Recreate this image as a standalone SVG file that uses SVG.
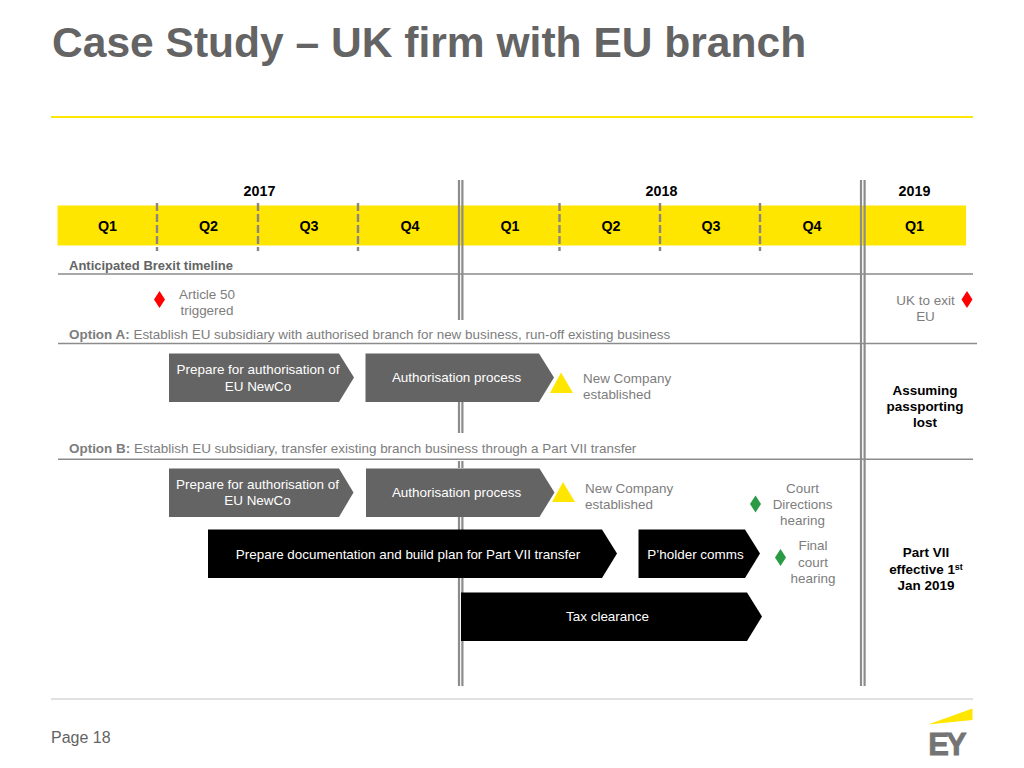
<svg xmlns="http://www.w3.org/2000/svg" width="1024" height="768" viewBox="0 0 1024 768">
<style>
text{font-family:"Liberation Sans",Arial,sans-serif;font-size:13.45px}
.m{text-anchor:middle}
.g{fill:#7d7d7d}
.d{fill:#646464}
.w{fill:#fff}
.k{fill:#000;font-weight:700}
.q{fill:#000;font-weight:700;text-anchor:middle;font-size:14.3px}
.rule{stroke:#8c8c8c;stroke-width:1.4;fill:none}
.dash{stroke:#8c8480;stroke-width:2.4;stroke-dasharray:8 3;fill:none}
.dbl{stroke:#8c8c8c;stroke-width:2.2;fill:none}
.red{fill:#f00}.grn{fill:#2a9a45}.yel{fill:#ffe600}.gr{fill:#646464}.bl{fill:#000}
</style>
<rect width="1024" height="768" fill="#fff"/>
<g id="title">
<text x="52" y="57" style="font-size:42.55px;font-weight:700" class="d">Case Study – UK firm with EU branch</text>
<rect x="51" y="116" width="922" height="2" class="yel"/>
</g>
<g id="timeline-band">
<rect x="57.5" y="205.5" width="908.5" height="40" class="yel"/>
<text x="259.500" y="196" class="q">2017</text>
<text x="661.500" y="196" class="q">2018</text>
<text x="914.500" y="196" class="q">2019</text>
<text x="107.500" y="230.500" class="q">Q1</text>
<text x="208.500" y="230.500" class="q">Q2</text>
<text x="309" y="230.500" class="q">Q3</text>
<text x="410" y="230.500" class="q">Q4</text>
<text x="510" y="230.500" class="q">Q1</text>
<text x="611" y="230.500" class="q">Q2</text>
<text x="711" y="230.500" class="q">Q3</text>
<text x="812" y="230.500" class="q">Q4</text>
<text x="914.500" y="230.500" class="q">Q1</text>
</g>
<g id="connectors">
<path class="dash" d="M157 203V251M258 203V251M358 203V251M559.500 203V251M660 203V251M760 203V251"/>
<path class="rule" d="M58 274H973M58 343.500H977M58 459.200H973"/>
<path class="dbl" d="M459 180V320M462.400 180V320M459 402V433M462.400 402V433M459 461V468M462.400 461V468M459 517V686M462.400 517V686"/>
<path class="dbl" d="M861 180V686M864.600 180V686"/>
<path d="M51 699H973" stroke="#e0e0e0" stroke-width="2" fill="none"/>
</g>
<g id="section-labels">
<text x="69" y="269.500" class="d" style="font-weight:700;font-size:13px">Anticipated Brexit timeline</text>
<text x="69" y="339" class="g"><tspan font-weight="700">Option A:</tspan> Establish EU subsidiary with authorised branch for new business, run-off existing business</text>
<text x="69" y="453" class="g"><tspan font-weight="700">Option B:</tspan> Establish EU subsidiary, transfer existing branch business through a Part VII transfer</text>
</g>
<g id="article-50">
<path class="red" d="M159.500 291L165 299.500 159.500 308 154 299.500Z"/>
<text class="g m"><tspan x="207" y="298.500">Article 50</tspan><tspan x="207" y="314.500">triggered</tspan></text>
</g>
<g id="uk-exit">
<path class="red" d="M967 291L972.500 299.500 967 308 961.500 299.500Z"/>
<text class="g m"><tspan x="925.500" y="304.500">UK to exit</tspan><tspan x="925.500" y="320.500">EU</tspan></text>
</g>
<g id="a-prepare">
<path class="gr" d="M169 353.500H339L354 377.500 339 402H169Z"/>
<text class="w m"><tspan x="258" y="374">Prepare for authorisation of</tspan><tspan x="258" y="390.500">EU NewCo</tspan></text>
</g>
<g id="a-authorisation">
<path class="gr" d="M365.500 353.500H539L554 377.500 539 402H365.500Z"/>
<text x="456.500" y="382" class="w m">Authorisation process</text>
</g>
<g id="a-newco">
<path class="yel" d="M561 372.500L573 393H550Z"/>
<text class="g"><tspan x="583" y="382.500">New Company</tspan><tspan x="583" y="398.500">established</tspan></text>
</g>
<g id="assuming">
<text class="k m"><tspan x="925" y="394.500">Assuming</tspan><tspan x="925" y="410.500">passporting</tspan><tspan x="925" y="426.500">lost</tspan></text>
</g>
<g id="b-prepare">
<path class="gr" d="M169 468.500H339L353.500 492.500 339 517H169Z"/>
<text class="w m"><tspan x="257.500" y="488.500">Prepare for authorisation of</tspan><tspan x="257.500" y="504.500">EU NewCo</tspan></text>
</g>
<g id="b-authorisation">
<path class="gr" d="M366 468.500H539.500L554.500 492.500 539.500 517H366Z"/>
<text x="456.500" y="497" class="w m">Authorisation process</text>
</g>
<g id="b-newco">
<path class="yel" d="M563 482L575 502H552Z"/>
<text class="g"><tspan x="585" y="493">New Company</tspan><tspan x="585" y="509">established</tspan></text>
</g>
<g id="directions-hearing">
<path class="grn" d="M755.500 495.500L761 504 755.500 512.500 750 504Z"/>
<text class="g m"><tspan x="802.500" y="493">Court</tspan><tspan x="802.500" y="509">Directions</tspan><tspan x="802.500" y="525">hearing</tspan></text>
</g>
<g id="documentation">
<path class="bl" d="M208 529.500H602L617 553.500 602 578H208Z"/>
<text x="408" y="558.500" class="w m">Prepare documentation and build plan for Part VII transfer</text>
</g>
<g id="pholder-comms">
<path class="bl" d="M638.500 529.500H745L760 553.500 745 578H638.500Z"/>
<text x="695.500" y="558.500" class="w m">P’holder comms</text>
</g>
<g id="final-hearing">
<path class="grn" d="M780.500 549L786 557.500 780.500 566 775 557.500Z"/>
<text class="g m"><tspan x="813" y="550">Final</tspan><tspan x="813" y="566.500">court</tspan><tspan x="813" y="582.500">hearing</tspan></text>
</g>
<g id="part-vii">
<text class="k m"><tspan x="926" y="557">Part VII</tspan><tspan x="926" y="573.500">effective 1<tspan dy="-4" style="font-size:9px">st</tspan></tspan><tspan x="926" y="589.500">Jan 2019</tspan></text>
</g>
<g id="tax-clearance">
<path class="bl" d="M461 592.500H747L762 616.500 747 641H461Z"/>
<text x="607.500" y="621" class="w m">Tax clearance</text>
</g>
<g id="footer">
<text x="51" y="743" class="d" style="font-size:16px">Page 18</text>
<path class="yel" d="M928 724.500L972.500 708.500V720Z"/>
<text x="946" y="754.500" class="m" fill="#747474" style="font-size:31px;font-weight:900;letter-spacing:-3px;stroke:#747474;stroke-width:.8">EY</text>
</g>
</svg>
